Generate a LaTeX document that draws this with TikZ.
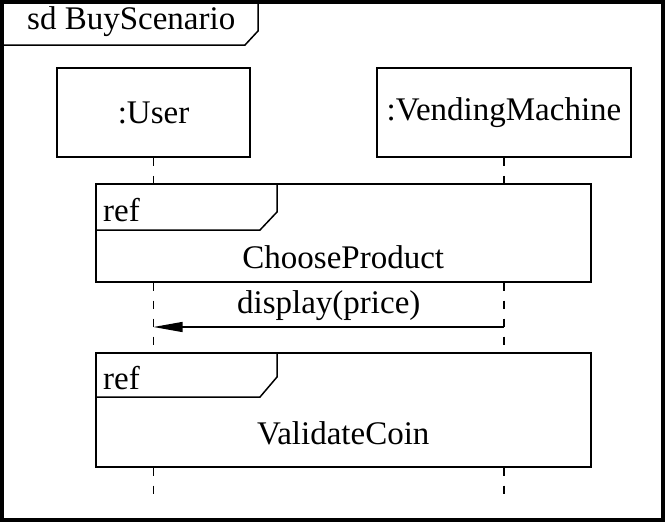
\documentclass[tikz,border=0pt]{standalone}
\usepackage{fontspec}
\setmainfont{Liberation Serif}
\usetikzlibrary{positioning,arrows.meta}

\begin{document}
\begin{tikzpicture}[x=1pt,y=-1pt,
    lbl/.style={font=\fontsize{33}{39}\selectfont,inner sep=0pt},
    lifebox/.style={rectangle,draw,line width=1.5pt,minimum height=89pt,
                    font=\fontsize{33}{39}\selectfont},
    refbox/.style={rectangle,draw,line width=1.5pt,minimum width=495pt,
                   anchor=north west},
    lifeline/.style={line width=1.5pt,dash pattern=on 8pt off 10pt},
    msg/.style={line width=1.2pt,-{Triangle[length=29pt,width=10pt]}}]
  \useasboundingbox (0,0) rectangle (668,522);
  % frame
  \draw[line width=4pt] (2,2) rectangle (663,520);
  \node[lbl,anchor=west] (title) at (27,22) {sd BuyScenario};
  \draw[line width=1.5pt] (2,45) -- (245,45) -- (258,31) -- (258,2);
  % lifelines
  \node[lifebox,minimum width=193pt] (user) at (153.5,112.5) {:User};
  \node[lifebox,minimum width=254pt] (vm) at (504,112.5) {:VendingMachine};
  % interaction uses
  \node[refbox,minimum height=98pt] (ref1) at (95,183) {};
  \node[refbox,minimum height=114pt] (ref2) at (95,352) {};
  \draw[line width=1.5pt] ([xshift=182pt]ref1.north west) -- ++(0,29) -- ++(-17,18)
    -- ([yshift=-47pt]ref1.north west);
  \draw[line width=1.5pt] ([xshift=182pt]ref2.north west) -- ++(0,25) -- ++(-17,20)
    -- ([yshift=-45pt]ref2.north west);
  \node[lbl,anchor=west] (r1) at ([xshift=8pt,yshift=-27pt]ref1.north west) {ref};
  \node[lbl,anchor=west] (r2) at ([xshift=8pt,yshift=-26pt]ref2.north west) {ref};
  \node[lbl] (choose) at ([yshift=25pt]ref1.south) {ChooseProduct};
  \node[lbl] (validate) at ([yshift=34pt]ref2.south) {ValidateCoin};
  \coordinate (msgy) at (0,327);
  \coordinate (lend) at (0,495);
  \draw[lifeline] (user) -- (user |- ref1.north);
  \draw[lifeline] (vm) -- (vm |- ref1.north);
  \draw[lifeline] (user |- ref1.south) -- (user |- ref2.north);
  \draw[lifeline] (vm |- ref1.south) -- (vm |- ref2.north);
  \draw[lifeline] (user |- ref2.south) -- (user |- lend);
  \draw[lifeline] (vm |- ref2.south) -- (vm |- lend);
  % message
  \draw[msg] (vm |- msgy) -- (user |- msgy)
    node[lbl,midway,above=6pt] (price) {display(price)};
\end{tikzpicture}
\end{document}
